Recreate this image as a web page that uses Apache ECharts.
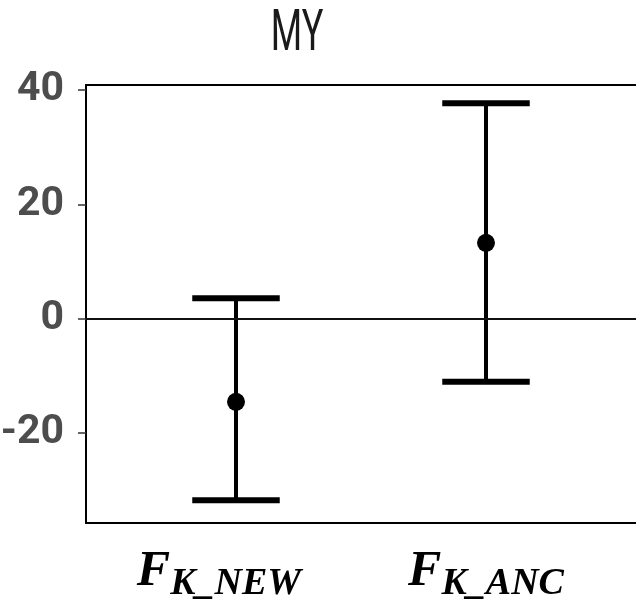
<!DOCTYPE html>
<html>
<head>
<meta charset="utf-8">
<script src="https://cdn.jsdelivr.net/npm/echarts@6/dist/echarts.min.js"></script>
<style>
  html, body { margin: 0; padding: 0; background: #fff; }
  #chart { width: 636px; height: 606px; }
</style>
</head>
<body>
<div id="chart"></div>
<script>
// 추정치와 신뢰구간
const categories = ['K_NEW', 'K_ANC']
const estimates = [-14.5, 13.3]
const lower = [-31.7, -11.0]
const upper = [3.6, 37.7]
const yTicks = [-20, 0, 20, 40]

const sans = "Roboto, 'Liberation Sans', sans-serif"
const serif = "'Liberation Serif', 'DejaVu Serif', serif"

const chart = echarts.init(document.getElementById('chart'))

const option = {
  animation: false,
  // 원본 제목은 좁은 글꼴이라 가로로 눌러서 표시
  graphic: [
    {
      type: 'text',
      x: 297,
      y: 6,
      scaleX: 0.62,
      style: {
        text: 'MY',
        align: 'center',
        verticalAlign: 'top',
        font: 'normal 58px ' + sans,
        fill: '#1a1a1a'
      }
    }
  ],
  grid: { left: 86, right: 0, top: 85, bottom: 83, containLabel: false, outerBoundsMode: 'none' },
  xAxis: [
    {
      type: 'value',
      min: 0.4,
      max: 2.6,
      splitLine: { show: false },
      axisTick: { show: false },
      axisLine: { show: true, onZero: false, lineStyle: { color: '#000', width: 2 } },
      axisLabel: {
        customValues: [1, 2],
        margin: 24,
        formatter: v => {
          const i = Math.round(v) - 1
          // 첫 번째 라벨은 원본처럼 왼쪽으로 약간 치우침
          return i === 0 ? `{f|F}{s1|${categories[i]}}` : `{f|F}{s|${categories[i]}}`
        },
        rich: {
          f: { fontFamily: serif, fontStyle: 'italic', fontWeight: 'bold', fontSize: 50, color: '#000', verticalAlign: 'top', lineHeight: 50 },
          s: { fontFamily: serif, fontStyle: 'italic', fontWeight: 'bold', fontSize: 38, color: '#000', padding: [18, 0, 0, 0], verticalAlign: 'top', lineHeight: 38 },
          s1: { fontFamily: serif, fontStyle: 'italic', fontWeight: 'bold', fontSize: 38, color: '#000', padding: [18, 34, 0, 0], verticalAlign: 'top', lineHeight: 38 }
        }
      }
    },
    {
      type: 'value',
      position: 'top',
      min: 0.4,
      max: 2.6,
      splitLine: { show: false },
      axisTick: { show: false },
      axisLabel: { show: false },
      axisLine: { show: true, onZero: false, lineStyle: { color: '#000', width: 2 } }
    }
  ],
  yAxis: {
    type: 'value',
    min: -35.7,
    max: 40.9,
    splitLine: { show: false },
    axisLine: { show: true, onZero: false, lineStyle: { color: '#000', width: 2 } },
    axisTick: { show: true, customValues: yTicks, length: 8, lineStyle: { color: '#333', width: 1.5 } },
    axisLabel: {
      customValues: yTicks,
      margin: 22,
      fontFamily: sans,
      fontWeight: 'bold',
      fontSize: 41,
      color: '#4d4d4d'
    }
  },
  series: [
    {
      type: 'custom',
      data: categories.map((c, i) => [i + 1, estimates[i], lower[i], upper[i]]),
      encode: { x: 0, y: [1, 2, 3] },
      markLine: {
        silent: true,
        symbol: 'none',
        label: { show: false },
        lineStyle: { color: '#111', width: 2, type: 'solid', opacity: 1 },
        emphasis: { disabled: true },
        data: [{ yAxis: 0 }]
      },
      renderItem: (params, api) => {
        const x = api.value(0)
        const p = api.coord([x, api.value(1)])
        const pLo = api.coord([x, api.value(2)])
        const pHi = api.coord([x, api.value(3)])
        const half = api.size([0.175, 0])[0]
        const stroke = { stroke: '#000', lineWidth: 4 }
        const cap = { stroke: '#000', lineWidth: 6 }
        return {
          type: 'group',
          children: [
            { type: 'line', shape: { x1: p[0], y1: pHi[1], x2: p[0], y2: pLo[1] }, style: stroke },
            { type: 'line', shape: { x1: p[0] - half, y1: pHi[1], x2: p[0] + half, y2: pHi[1] }, style: cap },
            { type: 'line', shape: { x1: p[0] - half, y1: pLo[1], x2: p[0] + half, y2: pLo[1] }, style: cap },
            { type: 'circle', shape: { cx: p[0], cy: p[1], r: 9 }, style: { fill: '#000' } }
          ]
        }
      }
    }
  ]
}

chart.setOption(option)
</script>
</body>
</html>
